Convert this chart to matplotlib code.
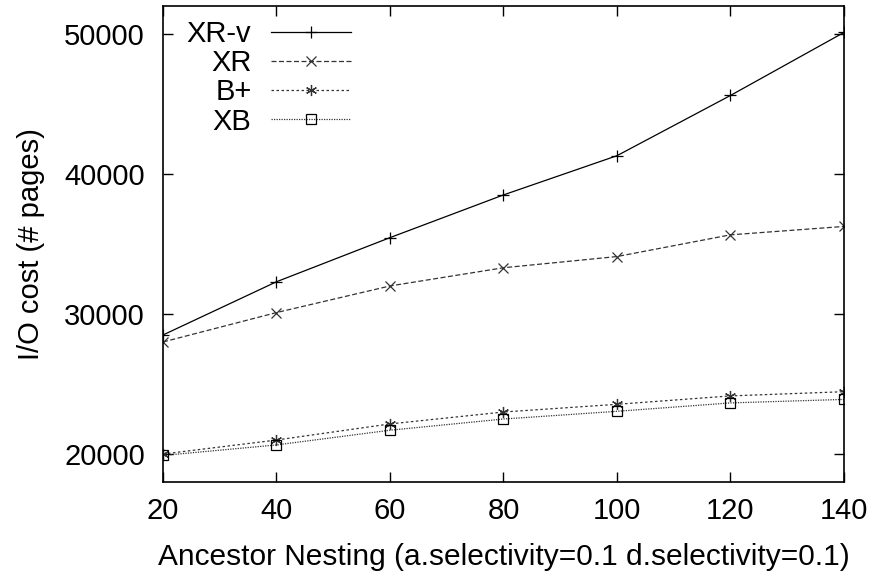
import matplotlib.pyplot as plt

plt.rcParams['font.family'] = ['Liberation Sans', 'DejaVu Sans']

# Ancestor nesting levels
nesting = [20, 40, 60, 80, 100, 120, 140]

# I/O cost (# pages) per method
xr_v = [28500, 32300, 35450, 38500, 41300, 45600, 50100]
xr = [28000, 30100, 32000, 33300, 34100, 35650, 36250]
b_plus = [20000, 21000, 22150, 23000, 23550, 24150, 24450]
xb = [19900, 20650, 21700, 22500, 23050, 23650, 23900]

fig = plt.figure(figsize=(8.73, 5.85), dpi=100)
ax = fig.add_axes([0.1867, 0.176, 0.780, 0.814])

ax.plot(nesting, xr_v, color='black', lw=0.9, marker='+', ms=8, mew=0.9, label='XR-v')
ax.plot(nesting, xr, color='#333333', lw=0.9, ls=(0, (4, 2)), marker='x', ms=7, mew=0.9, label='XR')
ax.plot(nesting, b_plus, color='#333333', lw=0.9, ls=(0, (2, 2)), marker=(6, 2, 0), ms=8, mew=0.9, label='B+')
ax.plot(nesting, xb, color='#333333', lw=0.9, ls=(0, (1, 1)), marker='s', ms=7, mew=0.9,
        mfc='none', mec='black', label='XB')

ax.set_xlim(20, 140)
ax.set_ylim(18000, 52000)
ax.set_xticks(nesting)
ax.set_yticks([20000, 30000, 40000, 50000])
ax.tick_params(direction='in', top=True, right=True, length=7, width=1, labelsize=21)
ax.tick_params(axis='y', pad=13)
ax.tick_params(axis='x', pad=11)
for s in ax.spines.values():
    s.set_linewidth(1.2)

ax.set_xlabel('Ancestor Nesting (a.selectivity=0.1 d.selectivity=0.1)', fontsize=21.5, labelpad=13)
ax.set_ylabel('I/O cost (# pages)', fontsize=21, labelpad=14)

ax.legend(loc='upper left', markerfirst=False, frameon=False, fontsize=21,
          handlelength=2.75, labelspacing=0.04, handletextpad=0.68,
          borderaxespad=0.0, borderpad=0.0, bbox_to_anchor=(0.035, 0.97))

fig.savefig('out.png', dpi=100)
